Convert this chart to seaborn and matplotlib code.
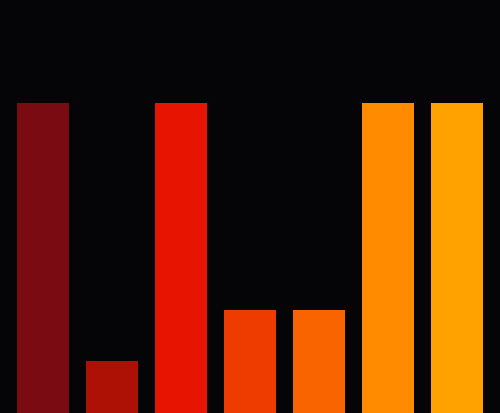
import matplotlib
matplotlib.use("Agg")
import matplotlib.pyplot as plt
import seaborn as sns
import pandas as pd

CATEGORIES = ["A", "B", "C", "D", "E", "F", "G"]
VALUES     = [6, 1, 6, 2, 2, 6, 6]
COLORS     = ["#7a0b12", "#ad1005", "#e61400", "#ee3b00", "#f96400", "#ff8c00", "#ffa200"]
BG         = "#050507"

df = pd.DataFrame({"cat": CATEGORIES, "val": VALUES})

sns.set_theme(style="dark", rc={"axes.facecolor": BG, "figure.facecolor": BG})

fig = plt.figure(figsize=(5.0, 4.14), dpi=100)
ax = fig.add_axes([0, 0, 1, 1])
sns.barplot(
    data=df, x="cat", y="val", hue="cat",
    palette=COLORS, width=0.75, legend=False,
    linewidth=0, saturation=1, ax=ax,
)
ax.set_xlim(-0.626, len(CATEGORIES) - 1 + 0.626)
ax.set_ylim(0, 8)
ax.set_axis_off()
ax.set_facecolor(BG)

fig.savefig("out.png", dpi=100, facecolor=BG)
plt.close(fig)
